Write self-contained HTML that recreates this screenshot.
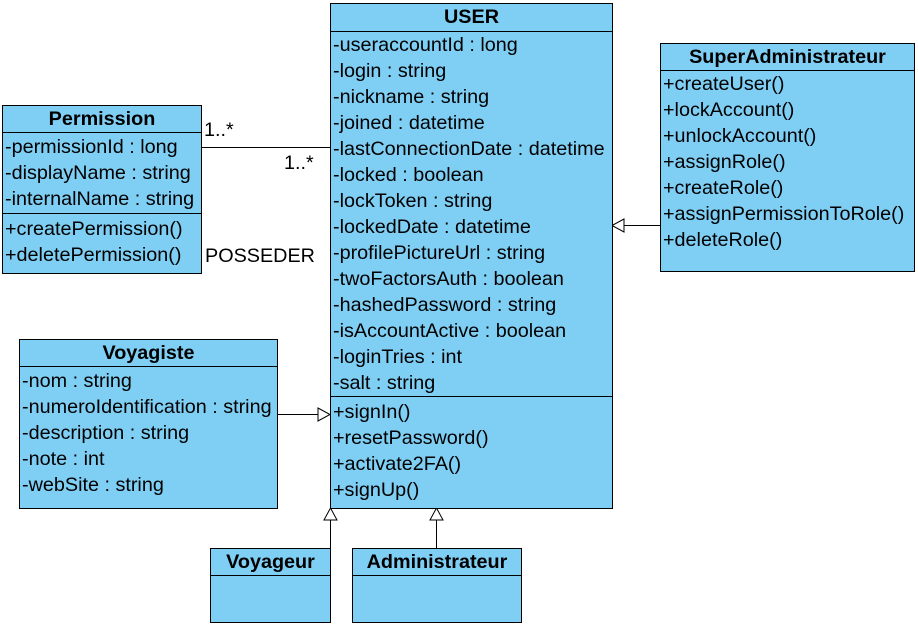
<!DOCTYPE html>
<html><head><style>
body{margin:0;width:918px;height:626px;background:#fff;position:relative;font-family:"Liberation Sans",Arial,sans-serif;font-size:19.8px;color:#000;overflow:hidden}
.b{position:absolute;background:#7fcef4;border:1px solid #000;box-sizing:border-box}
.h{font-weight:bold;text-align:center;border-bottom:1px solid #000;height:27px;line-height:27px}
.s{border-top:1px solid #000}
.r{height:26px;line-height:26px;padding-left:2px;white-space:nowrap}
.t{position:absolute;white-space:nowrap}
svg{position:absolute;left:0;top:0}
</style></head><body>
<svg width="918" height="626">
<g stroke="#000" stroke-width="1" fill="#fff">
<line x1="201" y1="147.5" x2="330" y2="147.5"/>
<line x1="277" y1="414.5" x2="318" y2="414.5"/><polygon points="318,408 330,414.5 318,421"/>
<line x1="660" y1="225.5" x2="624" y2="225.5"/><polygon points="624,219 612,225.5 624,232"/>
<line x1="330.5" y1="548" x2="330.5" y2="520"/><polygon points="324,520 330.5,508 337,520"/>
<line x1="436.5" y1="548" x2="436.5" y2="520"/><polygon points="430,520 436.5,508 443,520"/>
</g></svg>
<div class="t" style="left:204px;top:119px">1..*</div>
<div class="t" style="left:284px;top:152px">1..*</div>
<div class="t" style="left:205px;top:245px">POSSEDER</div>

<div class="b" style="left:330px;top:3px;width:283px;height:506px">
<div class="h">USER</div>
<div class="r">-useraccountId : long</div><div class="r">-login : string</div><div class="r">-nickname : string</div><div class="r">-joined : datetime</div><div class="r">-lastConnectionDate : datetime</div><div class="r">-locked : boolean</div><div class="r">-lockToken : string</div><div class="r">-lockedDate : datetime</div><div class="r">-profilePictureUrl : string</div><div class="r">-twoFactorsAuth : boolean</div><div class="r">-hashedPassword : string</div><div class="r">-isAccountActive : boolean</div><div class="r">-loginTries : int</div><div class="r">-salt : string</div>
<div class="s"></div>
<div class="r" style="margin-top:2px">+signIn()</div><div class="r">+resetPassword()</div><div class="r">+activate2FA()</div><div class="r">+signUp()</div>
</div>

<div class="b" style="left:2px;top:105px;width:200px;height:169px">
<div class="h" style="height:26px;line-height:26px">Permission</div>
<div class="r" style="margin-top:1px">-permissionId : long</div><div class="r">-displayName : string</div><div class="r">-internalName : string</div>
<div class="s" style="margin-top:1px"></div>
<div class="r" style="margin-top:2px">+createPermission()</div><div class="r">+deletePermission()</div>
</div>

<div class="b" style="left:660px;top:43px;width:255px;height:229px">
<div class="h" style="height:26px;line-height:27px">SuperAdministrateur</div>
<div class="r">+createUser()</div><div class="r">+lockAccount()</div><div class="r">+unlockAccount()</div><div class="r">+assignRole()</div><div class="r">+createRole()</div><div class="r">+assignPermissionToRole()</div><div class="r">+deleteRole()</div>
</div>

<div class="b" style="left:19px;top:339px;width:259px;height:170px">
<div class="h" style="height:26px">Voyagiste</div>
<div class="r" style="margin-top:1px">-nom : string</div><div class="r">-numeroIdentification : string</div><div class="r">-description : string</div><div class="r">-note : int</div><div class="r">-webSite : string</div>
</div>

<div class="b" style="left:210px;top:548px;width:121px;height:75px">
<div class="h" style="height:26px">Voyageur</div>
</div>
<div class="b" style="left:352px;top:548px;width:170px;height:75px">
<div class="h" style="height:26px">Administrateur</div>
</div>
</body></html>
